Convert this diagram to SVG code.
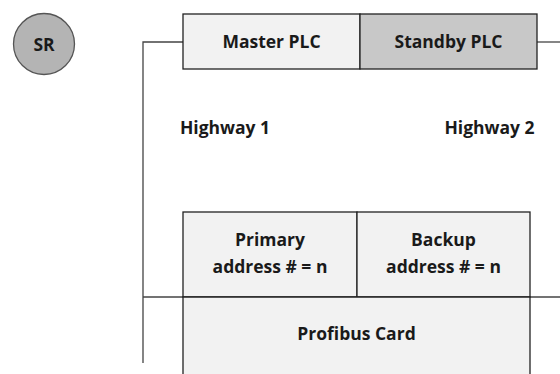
<svg xmlns="http://www.w3.org/2000/svg" width="560" height="374" viewBox="0 0 560 374">
<style>
.t{font-family:"Open Sans","Noto Sans","Liberation Sans",sans-serif;font-weight:bold;font-size:17.5px;fill:#1a1a1a;text-anchor:middle}
.ln{stroke:#444;stroke-width:1.3;fill:none}
.bx{stroke:#222;stroke-width:1.3}
</style>
<rect width="560" height="374" fill="#fff"/>
<g id="connectors">
<polyline class="ln" points="183,42 143,42 143,363"/>
<line class="ln" x1="537" y1="42" x2="560" y2="42"/>
<line class="ln" x1="143" y1="297" x2="560" y2="297"/>
</g>
<g id="sr">
<circle cx="44" cy="44" r="30.5" fill="#b4b4b4" stroke="#555" stroke-width="1.3"/>
<text class="t" x="44" y="51">SR</text>
</g>
<g id="master-plc">
<rect class="bx" x="183" y="14" width="177" height="55" fill="#f2f2f2"/>
<text class="t" x="271.5" y="47.5">Master PLC</text>
</g>
<g id="standby-plc">
<rect class="bx" x="360" y="14" width="177" height="55" fill="#c8c8c8"/>
<text class="t" x="448.5" y="47.5">Standby PLC</text>
</g>
<g id="highway1"><text class="t" x="225" y="133.5">Highway 1</text></g>
<g id="highway2"><text class="t" x="489.5" y="133.5">Highway 2</text></g>
<g id="primary">
<rect class="bx" x="183" y="212" width="174" height="85" fill="#f2f2f2"/>
<text class="t" x="270" y="246">Primary</text>
<text class="t" x="270" y="273">address # = n</text>
</g>
<g id="backup">
<rect class="bx" x="357" y="212" width="173" height="85" fill="#f2f2f2"/>
<text class="t" x="443.5" y="246">Backup</text>
<text class="t" x="443.5" y="273">address # = n</text>
</g>
<g id="profibus">
<path class="bx" d="M183,380 V297 H530 V380" fill="#f2f2f2"/>
<text class="t" x="356.5" y="340">Profibus Card</text>
</g>
</svg>
